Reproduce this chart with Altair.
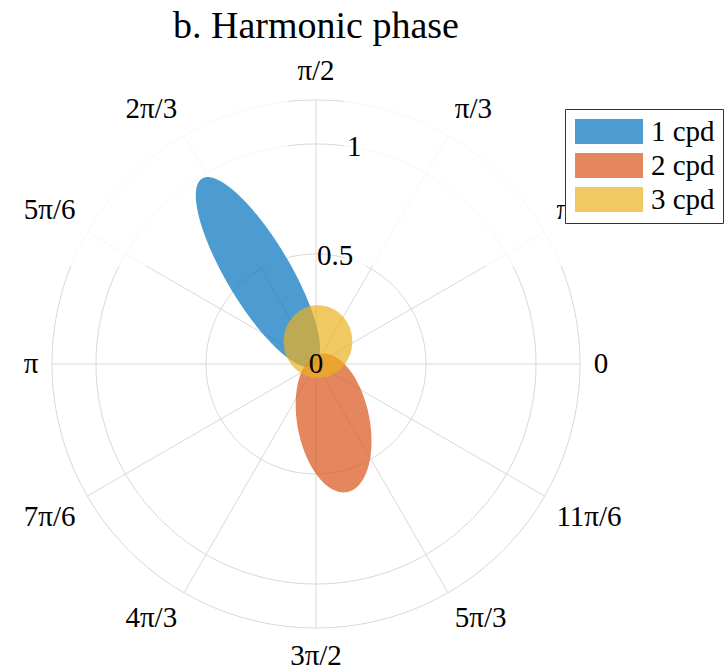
import numpy as np
import pandas as pd
import altair as alt

# ---- polar grid -------------------------------------------------------
ring_radii = [0.5, 1.0, 1.2]
r_max = 1.2
spoke_steps = list(range(12))                     # multiples of pi/6
theta_labels = ["0", "π/6", "π/3", "π/2", "2π/3", "5π/6",
                "π", "7π/6", "4π/3", "3π/2", "5π/3", "11π/6"]
r_tick_values = [0.0, 0.5, 1.0]
r_tick_labels = ["0", "0.5", "1"]
r_axis_deg = 80.0                                 # radial tick labels sit along this angle
theta_label_radius = 1.262

# ---- harmonic phase ellipses -----------------------------------------
series = ["1 cpd", "2 cpd", "3 cpd"]
centre_x = [-0.264, 0.080, 0.009]
centre_y = [0.418, -0.268, 0.102]
semi_major = [0.495, 0.320, 0.165]
semi_minor = [0.145, 0.164, 0.156]
orient_deg = [120.8, -78.9, 90.0]
colors = ["#0072BD", "#D95319", "#EDB120"]

FONT = "'Liberation Serif', 'Times New Roman', 'DejaVu Serif', serif"
GRID = "#D8D8D8"
TICK_SIZE = 29


def ellipse_band(cx, cy, a, b, phi_deg, n=240):
    """Lower/upper outline of a rotated ellipse, sampled along x."""
    phi = np.deg2rad(phi_deg)
    c, s = np.cos(phi), np.sin(phi)
    half_w = np.sqrt((a * c) ** 2 + (b * s) ** 2)
    dx = -half_w * np.cos(np.linspace(0, np.pi, n))
    A = s ** 2 / a ** 2 + c ** 2 / b ** 2
    B = 2 * dx * c * s * (1 / a ** 2 - 1 / b ** 2)
    C = dx ** 2 * (c ** 2 / a ** 2 + s ** 2 / b ** 2) - 1
    disc = np.sqrt(np.clip(B ** 2 - 4 * A * C, 0, None))
    return cx + dx, cy + (-B - disc) / (2 * A), cy + (-B + disc) / (2 * A)


rows = []
for name, cx, cy, a, b, ph in zip(series, centre_x, centre_y,
                                  semi_major, semi_minor, orient_deg):
    xs, lo, hi = ellipse_band(cx, cy, a, b, ph)
    for x, yl, yh in zip(xs, lo, hi):
        rows.append({"series": name, "x": x, "y_lo": yl, "y_hi": yh})
ellipse_df = pd.DataFrame(rows)

t = np.linspace(0, 2 * np.pi, 361)
ring_df = pd.DataFrame([
    {"r": r, "k": i, "x": r * np.cos(a), "y": r * np.sin(a)}
    for r in ring_radii for i, a in enumerate(t)
])

spoke_ang = np.array(spoke_steps) * np.pi / 6
spoke_df = pd.DataFrame({
    "x0": 0.0, "y0": 0.0,
    "x1": r_max * np.cos(spoke_ang), "y1": r_max * np.sin(spoke_ang),
})

# faded band over the upper part of the grid
haze_df = pd.DataFrame({
    "x0": [-1.4, 0.13], "x1": [-0.13, 1.4],
    "y0": [0.445, 0.445], "y1": [1.35, 1.35],
})


def side(v, pos, neg, mid):
    if v > 1e-6:
        return pos
    if v < -1e-6:
        return neg
    return mid


theta_df = pd.DataFrame({
    "label": theta_labels,
    "x": theta_label_radius * np.cos(spoke_ang),
    "y": theta_label_radius * np.sin(spoke_ang),
    "align": [side(np.cos(a), "left", "right", "center") for a in spoke_ang],
    "baseline": [side(np.sin(a), "bottom", "top", "middle") for a in spoke_ang],
})

ra = np.deg2rad(r_axis_deg)
rtick_df = pd.DataFrame({
    "label": r_tick_labels,
    "x": [v * np.cos(ra) for v in r_tick_values],
    "y": [v * np.sin(ra) for v in r_tick_values],
})

xs = alt.Scale(domain=[-r_max, r_max], nice=False, zero=False)
ys = alt.Scale(domain=[-r_max, r_max], nice=False, zero=False)
X = lambda f: alt.X(f, type="quantitative", scale=xs, axis=None)
Y = lambda f: alt.Y(f, type="quantitative", scale=ys, axis=None)

rings = alt.Chart(ring_df).mark_line(color=GRID, strokeWidth=1).encode(
    x=X("x"), y=Y("y"), detail="r:N", order="k:Q")

spokes = alt.Chart(spoke_df).mark_rule(color=GRID, strokeWidth=1).encode(
    x=X("x0"), y=Y("y0"), x2="x1", y2="y1")

haze = alt.Chart(haze_df).mark_rect(color="white", opacity=0.78).encode(
    x=X("x0"), x2="x1", y=Y("y0"), y2="y1")

# swatch: 25 px tall box of the nominal symbol size, stretched to the right
legend = alt.Legend(
    title=None, orient="none", legendX=513, legendY=9, direction="vertical",
    fillColor="white", strokeColor="#333333", padding=8,
    labelFont=FONT, labelFontSize=TICK_SIZE, labelColor="black", labelOffset=49,
    symbolType="M-1,-1L4.44,-1L4.44,1L-1,1Z", symbolSize=625,
    symbolStrokeWidth=0, symbolOpacity=0.7, rowPadding=4,
)

ellipses = alt.Chart(ellipse_df).mark_area(opacity=0.7).encode(
    x=X("x"),
    y=alt.Y("y_lo", type="quantitative", scale=ys, axis=None, stack=None),
    y2="y_hi",
    color=alt.Color("series:N", scale=alt.Scale(domain=series, range=colors),
                    legend=legend),
)

text_layers = []
for (al, bl), grp in theta_df.groupby(["align", "baseline"]):
    text_layers.append(
        alt.Chart(grp).mark_text(font=FONT, fontSize=TICK_SIZE, color="black",
                                 align=al, baseline=bl).encode(
            x=X("x"), y=Y("y"), text="label:N"))

rticks = alt.Chart(rtick_df).mark_text(font=FONT, fontSize=TICK_SIZE, color="black",
                                      align="center", baseline="middle").encode(
    x=X("x"), y=Y("y"), text="label:N")

chart = alt.layer(rings, spokes, haze, ellipses, *text_layers, rticks).properties(
    width=528, height=528,
    title=alt.TitleParams("b. Harmonic phase", font=FONT, fontSize=38,
                          fontWeight="normal", color="black", anchor="middle",
                          frame="group", offset=11),
    padding={"left": 52, "top": 100, "right": 145, "bottom": 44},
    autosize="none",
    background="white",
).configure_view(stroke=None)

chart.save("out.html", embed_options={"renderer": "svg", "actions": False})
